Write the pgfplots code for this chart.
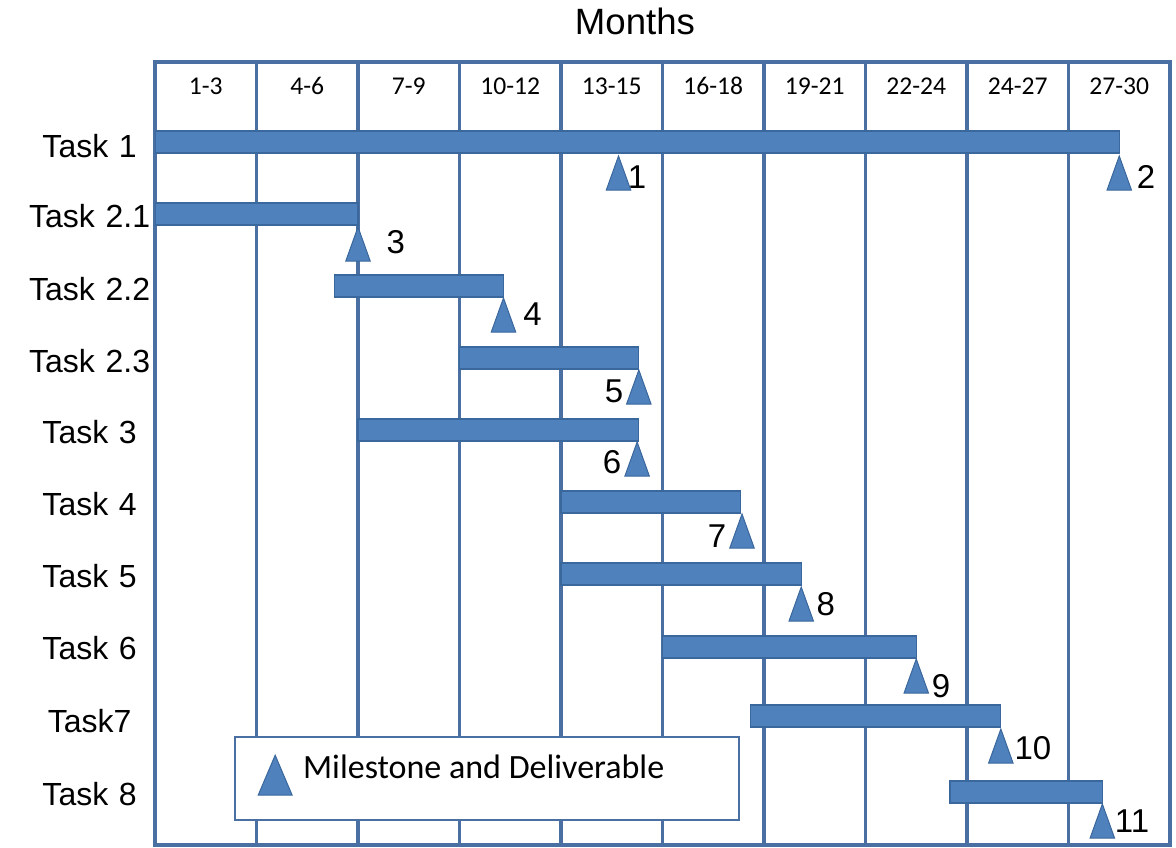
\documentclass[border=0pt]{standalone}
\usepackage{pgfplots}
\pgfplotsset{compat=1.18}
\usepackage{pgfplotstable}
\usepackage{fontspec}
\setmainfont{Liberation Sans}
\newfontfamily\calibri{Carlito}

\definecolor{barfill}{HTML}{4F81BD}
\definecolor{baredge}{HTML}{3A679C}
\definecolor{gridline}{HTML}{4A6FA2}

% task rows: vertical position, start month, end month
\pgfplotstableread{
y   start end
142 0     28.5
214 0     6.0
286 5.3   10.3
358 9.0   14.3
430 6.0   14.3
502 12.0  17.3
574 12.0  19.1
647 15.0  22.5
716 17.6  25.0
792 23.5  28.0
}\tasks

% milestones: month and the row edge the triangle hangs from
\pgfplotstableread{
x     y
13.7  156
28.5  156
6.0   227
10.3  298
14.3  370
14.25 442
17.35 514
19.1  587
22.5  659
25.0  729
28.0  804
}\milestones

% triangle whose apex sits on the data point
\pgfdeclareplotmark{milestone}{%
  \pgfpathmoveto{\pgfpoint{0pt}{0pt}}%
  \pgfpathlineto{\pgfpoint{6.1pt}{-17pt}}%
  \pgfpathlineto{\pgfpoint{-6.1pt}{-17pt}}%
  \pgfpathclose
  \pgfusepathqfillstroke}

\begin{document}
\begin{tikzpicture}
\useasboundingbox (0,0) rectangle (588pt,423.5pt);
\begin{axis}[
  at={(77.5pt,1pt)}, anchor=south west,
  scale only axis, width=507.5pt, height=391.5pt,
  xmin=0, xmax=30, ymin=62, ymax=845, y dir=reverse,
  axis line style={draw=gridline, line width=1.6pt},
  tick style={draw=none},
  major tick length=0pt, minor tick length=0pt,
  xtick={1.5,4.5,...,28.5},
  xticklabels={1-3,4-6,7-9,10-12,13-15,16-18,19-21,22-24,24-27,27-30},
  xticklabel pos=upper,
  xticklabel style={font=\calibri\fontsize{12.8}{15}\selectfont, anchor=center, yshift=-12pt},
  minor xtick={3,6,...,27},
  xminorgrids=true,
  minor grid style={draw=gridline, line width=1.6pt},
  ytick={146,216,289,361,432,504,576,648,721,794},
  yticklabels={Task 1,Task 2.1,Task 2.2,Task 2.3,Task 3,Task 4,Task 5,Task 6,Task7,Task 8},
  yticklabel style={font=\fontsize{16}{19}\selectfont, text width=65pt, align=center, inner sep=0pt, anchor=east},
  legend style={at={(rel axis cs:0.0778,0.1392)}, anchor=north west,
    draw=gridline, line width=1.2pt, fill=white, inner sep=0pt,
    column sep=0pt, font=\calibri\fontsize{17}{20}\selectfont,
    cells={anchor=west}, nodes={inner sep=0pt}},
  legend image code/.code={%
    \path[draw=none, fill=none] (0pt,-26pt) rectangle (34pt,15.5pt);
    \draw[fill=barfill, draw=baredge, line width=0.5pt]
      (11.5pt,-13.5pt) -- (28.5pt,-13.5pt) -- (20pt,6.5pt) -- cycle;
  },
]
% Gantt bars: invisible offset up to the start, then the duration
\addplot[xbar stacked, bar width=11pt, draw=none, fill=none, forget plot]
  table[x=start, y=y]{\tasks};
\addplot[xbar stacked, bar width=11pt, fill=barfill, draw=baredge, line width=0.6pt, forget plot]
  table[x expr=\thisrow{end}-\thisrow{start}, y=y]{\tasks};

% milestones and deliverables
\addplot[only marks, mark=milestone, mark options={fill=barfill, draw=baredge, line width=0.5pt}]
  table[x=x, y=y]{\milestones};
\addlegendentry{\makebox[218pt][l]{Milestone and Deliverable}}

% milestone numbers
\begin{scope}[every node/.style={font=\fontsize{16.5}{19}\selectfont, inner sep=0pt}]
\node at (axis cs:14.25,177) {1};
\node at (axis cs:29.29,177) {2};
\node at (axis cs:7.12,242) {3};
\node at (axis cs:11.16,314) {4};
\node at (axis cs:13.57,391) {5};
\node at (axis cs:13.51,462) {6};
\node at (axis cs:16.61,536) {7};
\node at (axis cs:19.83,604) {8};
\node at (axis cs:23.23,686) {9};
\node at (axis cs:25.95,748) {10};
\node at (axis cs:28.88,821) {11};
\end{scope}
\end{axis}
\node[font=\fontsize{18.3}{22}\selectfont, inner sep=0pt] at (317.5pt,412.75pt) {Months};
\end{tikzpicture}
\end{document}
